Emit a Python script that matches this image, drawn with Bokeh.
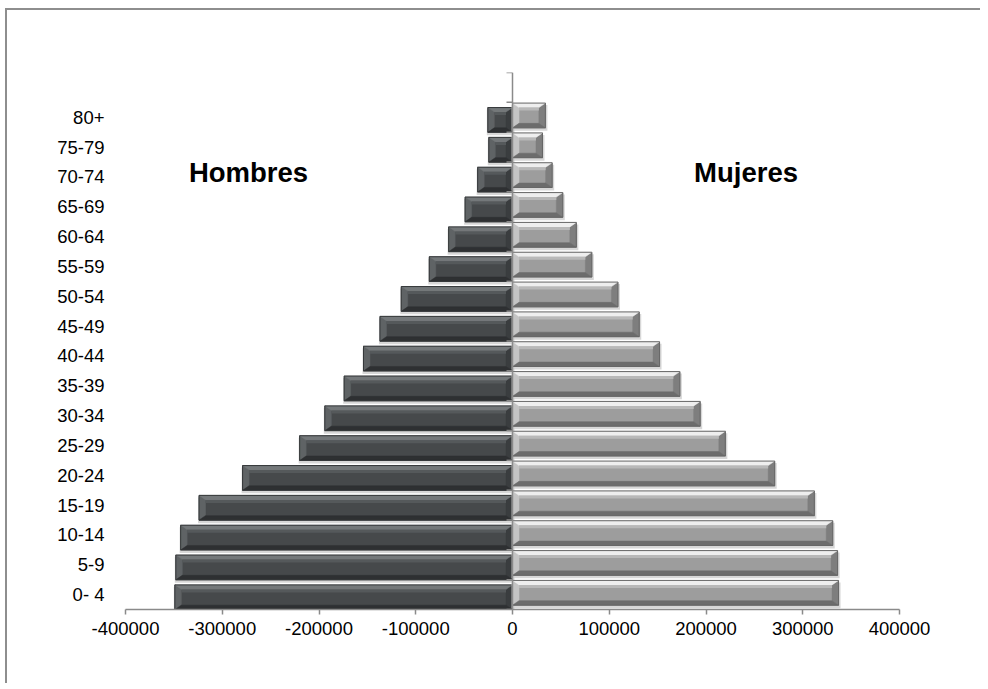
import numpy as np
from bokeh.plotting import figure
from bokeh.models import FixedTicker, Span, Label
from bokeh.embed import file_html
from bokeh.resources import INLINE

# ---------------- data ----------------
age_groups = ["0- 4", "5-9", "10-14", "15-19", "20-24", "25-29", "30-34", "35-39",
              "40-44", "45-49", "50-54", "55-59", "60-64", "65-69", "70-74", "75-79", "80+"]
hombres = [-349000, -348000, -343000, -324000, -279000, -220000, -194000, -174000,
           -154000, -137000, -115000, -86000, -66000, -49000, -36000, -24500, -25500]
mujeres = [337000, 336000, 331000, 312000, 271000, 220000, 194000, 173000,
           152000, 131000, 109000, 82000, 66000, 52000, 41000, 31000, 34000]
x_ticks = [-400000, -300000, -200000, -100000, 0, 100000, 200000, 300000, 400000]
series_names = ["Hombres", "Mujeres"]

FONT = "Liberation Sans"
n_bands = len(age_groups) + 1  # one empty category at the top

OX, OY = 7, 10          # canvas offset on the page (border + margin)
W, H = 975, 675
ML, MR, MT, MB = 118, 83, 62, 76
frame_w = W - ML - MR
frame_h = H - MT - MB
ux = (x_ticks[-1] - x_ticks[0]) / frame_w      # data units per pixel (x)
uy = n_bands / frame_h                          # data units per pixel (y)

p = figure(width=W, height=H, x_range=(x_ticks[0], x_ticks[-1]), y_range=(0, n_bands),
           output_backend="svg", toolbar_location=None,
           min_border_left=ML, min_border_right=MR, min_border_top=MT, min_border_bottom=MB)
p.background_fill_color = "white"
p.border_fill_color = "white"
p.outline_line_color = None
p.grid.grid_line_color = None
p.styles = {"margin-left": f"{OX - 2}px", "margin-top": f"{OY - 2}px",
            "border-left": "2px solid #8e8e8e", "border-top": "2px solid #8e8e8e"}

centers = np.arange(len(age_groups)) + 0.5
bar_h = 0.83


def draw_bars(vals, offset, cols):
    vals = np.array(vals, dtype=float)
    y = centers + offset
    xl = np.minimum(vals, 0.0)
    xr = np.maximum(vals, 0.0)
    yb = y - bar_h / 2
    yt = y + bar_h / 2
    # shadow
    p.quad(left=xl - 1.0 * ux, right=xr + 2.0 * ux, bottom=yb - 3.0 * uy, top=yt - 2.0 * uy,
           fill_color="#c9c9c9", fill_alpha=0.75, line_color=None)
    # face
    p.quad(left=xl, right=xr, bottom=yb, top=yt, fill_color=cols["face"], line_color=None)
    bx = np.minimum(6.5 * ux, (xr - xl) / 2)
    by = 4.5 * uy
    tops, bots, lefts, rights = ([], []), ([], []), ([], []), ([], [])
    for a, b, c, d, ex in zip(xl, xr, yb, yt, bx):
        tops[0].append([a, b, b - ex, a + ex]); tops[1].append([d, d, d - by, d - by])
        bots[0].append([a, b, b - ex, a + ex]); bots[1].append([c, c, c + by, c + by])
        lefts[0].append([a, a + ex, a + ex, a]); lefts[1].append([c, c + by, d - by, d])
        rights[0].append([b, b - ex, b - ex, b]); rights[1].append([c, c + by, d - by, d])
    for shp, key in ((lefts, "left"), (rights, "right"), (tops, "top"), (bots, "bottom")):
        p.patches(xs=shp[0], ys=shp[1], fill_color=cols[key], line_color=cols[key], line_width=0.5)
    # highlight stripe under top bevel
    p.quad(left=xl + bx, right=xr - bx, bottom=yt - by - 3.0 * uy, top=yt - by,
           fill_color=cols["stripe"], line_color=None)
    # outline
    p.quad(left=xl, right=xr, bottom=yb, top=yt, fill_alpha=0, line_color=cols["edge"], line_width=1)


male_cols = dict(face="#46494b", top="#74787a", bottom="#2e3032", left="#5f6365",
                 right="#3a3d3f", stripe="#55595b", edge="#35383a")
female_cols = dict(face="#9d9d9d", top="#eeeeee", bottom="#6c6c6c", left="#c4c4c4",
                   right="#7e7e7e", stripe="#b8b8b8", edge="#666666")

draw_bars(hombres, -0.09, male_cols)
draw_bars(mujeres, 0.06, female_cols)

# central category axis line with ticks on its left
p.add_layout(Span(location=0, dimension="height", line_color="#8a8a8a", line_width=1.5))
p.ray(x=0, y=np.arange(n_bands + 1), length=6, length_units="screen", angle=np.pi,
      line_color="#8a8a8a", line_width=1.5)

# y axis (category labels)
yax = p.yaxis[0]
yax.ticker = FixedTicker(ticks=list(centers))
yax.major_label_overrides = {float(c): lab for c, lab in zip(centers, age_groups)}
yax.axis_line_color = None
yax.major_tick_line_color = None
yax.minor_tick_line_color = None
yax.major_tick_out = 0
yax.major_tick_in = 0
yax.major_label_standoff = 21
yax.major_label_text_font = FONT
yax.major_label_text_font_size = "18.5px"
yax.major_label_text_color = "black"

# x axis
xax = p.xaxis[0]
xax.ticker = FixedTicker(ticks=x_ticks)
xax.major_label_overrides = {t: str(t) for t in x_ticks}
xax.axis_line_color = "#8a8a8a"
xax.axis_line_width = 1.5
xax.major_tick_line_color = "#8a8a8a"
xax.major_tick_line_width = 1.5
xax.minor_tick_line_color = None
xax.major_tick_out = 5
xax.major_tick_in = 0
xax.major_label_standoff = 7
xax.major_label_text_font = FONT
xax.major_label_text_font_size = "18.5px"
xax.major_label_text_color = "black"

# series labels
label_y = n_bands - (171.7 - OY - MT) * uy
p.add_layout(Label(x=-272800, y=label_y, text=series_names[0], text_align="center",
                   text_baseline="alphabetic", text_font=FONT, text_font_size="27.5px",
                   text_font_style="bold", text_color="black"))
p.add_layout(Label(x=241400, y=label_y, text=series_names[1], text_align="center",
                   text_baseline="alphabetic", text_font=FONT, text_font_size="27.5px",
                   text_font_style="bold", text_color="black"))

open("out.html", "w").write(file_html(p, INLINE))
